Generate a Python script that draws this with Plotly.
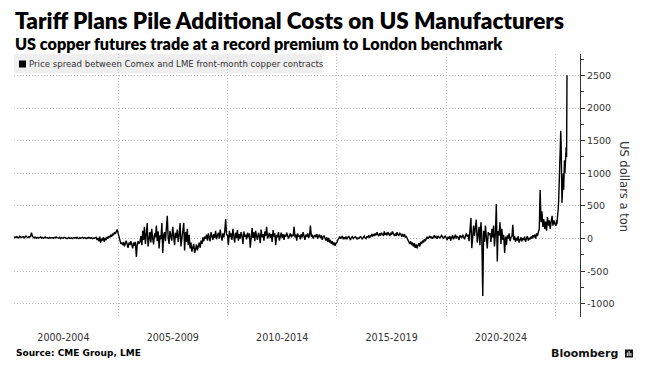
import pandas as pd
import plotly.graph_objects as go

# ---------------- data (US$ per tonne, Comex minus LME front-month) ----------------
# semi-monthly readings (1st & 15th), April 2000 - December 2024
spread_2000_2004 = [
    10, 25, 15, 30, 20, 10, 35, 20, 15, 25, 30, 10, 20, 40, 25, 15, 30, 20,
    40, 90, 30, 20, 10, 25, 15, 5, 20, 10, 15, 25, 10, 20, 5, 15, 25, 10, 20, 15, 5, 20, 10, 15,
    15, 5, 20, 10, 25, 15, 5, 10, 20, 0, 15, 10, 5, 20, 10, 15, 0, 10, 20, 5, 15, 10, 0, 15,
    10, 15, 5, 20, 10, 0, 15, 5, 10, 20, 5, 15, 10, 0, 15, 5, 20, 10, 5, 15, 0, 10, 5, 15,
    20, -20, 10, -40, 30, -60, 0, -30, 20, -50, 10, -20, 30, 0, 40, 20, 60, 30, 80, 50, 100, 70, 120, 140,
]
spread_2005_2009 = [
    80, 20, -40, -80, -60, -100, -50, -120, -70, -30, -90, -140, -60, -100, -40, -80, -150, -60, -110, -50, -280, -90, -40, -70,
    -50, 40, -100, 120, -20, 180, -80, 60, 240, -120, 30, 100, -60, 150, 0, -90, 80, 20, 200, -40, 110, -150, 50, -10,
    240, -220, 60, 100, -40, 150, 350, 20, -80, 120, 50, -30, 180, 70, -100, 90, 10, 140, -50, 60, 240, -120, 30, 80,
    240, -180, 100, -50, 150, -100, 60, -150, -60, -200, -120, -80, -220, -150, -90, -180, -110, -60, -140, -30, -80, 20, -40, 30,
    0, 60, -30, 80, 20, -40, 100, 30, -20, 70, 10, 120, -10, 50, 90, 0, 140, 40, -30, 80, 20, 110, 300, 60,
]
spread_2010_2014 = [
    50, -100, 120, 20, 80, -20, 150, 40, -60, 90, 10, 130, -30, 70, 0, 100, 40, -80, 110, 30, 60, -10, 90, 20,
    80, -140, 60, 160, 10, 100, -40, 120, 30, -20, 90, 50, -70, 140, 20, 70, -30, 110, 40, 180, 0, 60, 90, 10,
    70, -50, 130, 30, 80, -100, 60, 20, 100, -30, 50, 90, 10, 70, -20, 60, 30, 90, 40, 0, 50, 80, 20, 60,
    40, 180, 20, 60, -30, 80, 30, 50, -10, 70, 20, 100, 40, -20, 60, 30, 80, 10, 50, 200, 30, 60, 0, 40,
    50, 20, 70, 0, 40, 60, 10, 50, -20, 30, 40, 0, -30, 20, -50, 10, -60, -20, -80, -40, -100, -60, -110, -70,
]
spread_2015_2019 = [
    -60, -20, 10, 30, 0, 20, 40, -10, 20, 0, 30, -10, 20, 40, 10, -20, 20, 30, 0, 10, 30, 20, -10, 10,
    0, 20, 30, 10, -10, 20, 40, 10, 0, 30, 20, 50, 10, 40, 60, 30, 70, 40, 80, 50, 100, 60, 40, 80,
    50, 90, 70, 40, 110, 60, 80, 50, 100, 70, 40, 90, 60, 110, 80, 50, 70, 40, 100, 60, 50, 80, 70, 40,
    60, 30, 70, 20, 40, 0, -20, -50, -80, -40, -100, -60, -120, -70, -140, -90, -150, -100, -70, -120, -50, -80, -30, -60,
    -10, -40, 10, 30, 0, 20, 40, 10, 30, 0, 20, 50, 10, 30, 0, 40, 20, 10, 30, 50, 20, 0, 30, 40,
]
spread_2020_2024 = [
    10, -20, 30, 0, 40, -30, 20, 50, -10, 30, 60, 0, 40, 20, -20, 50, 30, 10, 60, 20, -10, 40, 80, 30,
    60, -40, 120, 315, -145, 80, 200, 40, 150, 290, -60, 100, 180, -100, 250, 50, -880, 120, -50, 200, 30, -150, 100, 60,
    80, -50, 150, 20, 200, -120, 100, 530, -350, 120, 50, 250, -80, 150, -20, 60, -220, 30, -100, 50, 0, 80, -40, 20,
    30, 210, -20, 40, -50, 10, -30, 40, -60, 0, 20, -40, 10, -20, 30, -50, 0, 40, -30, 10, -10, 30, 0, 50,
    20, 60, 0, 80, 40, 100, 150, 745, 250, 420, 180, 300, 150, 260, 120, 330, 200, 280, 150, 250, 350, 200, 280, 230,
]
# weekly readings (Tuesdays), January - July 2025
spread_2025 = [
    200, 280, 220, 300, 350, 450, 560, 700, 1100, 1200, 1400, 1650, 1450, 600,
    550, 700, 900, 1000, 750, 1100, 1200, 1000, 1300, 1150, 1400, 1250, 2500,
]

period_labels = ["2000-2004", "2005-2009", "2010-2014", "2015-2019", "2020-2024"]
period_mid = ["2002-07-02", "2007-07-02", "2012-07-02", "2017-07-02", "2022-07-02"]
period_breaks = ["2005-01-01", "2010-01-01", "2015-01-01", "2020-01-01", "2025-01-01"]
y_tick_vals = [-1000, -500, 0, 500, 1000, 1500, 2000, 2500]
y_tick_text = ["-1000", "-500", "0", "500", "1000", "1500", "2000", "2500"]

semi = spread_2000_2004 + spread_2005_2009 + spread_2010_2014 + spread_2015_2019 + spread_2020_2024
semi_dates = pd.date_range("2000-04-01", periods=len(semi), freq="SMS")
weekly_dates = pd.date_range("2025-01-07", periods=len(spread_2025), freq="W-TUE")
dates = list(semi_dates) + list(weekly_dates)
values = semi + spread_2025

# ---------------- layout geometry (pixels) ----------------
W, H = 645, 371
L, R, T, B = 14, 65, 54, 54
PW, PH = W - L - R, H - T - B


def xp(px):
    return (px - L) / PW


def yp(py):
    return 1 - (py - T) / PH


fig = go.Figure()
fig.add_trace(go.Scatter(
    x=dates, y=values, mode="lines",
    line=dict(color="#000000", width=1.4),
    showlegend=False, hoverinfo="x+y",
))

grid = "#bdbdbd"
gdash = "1px,2px"
fig.update_layout(
    width=W, height=H,
    margin=dict(l=L, r=R, t=T, b=B, pad=0),
    paper_bgcolor="white", plot_bgcolor="white",
    font=dict(family="DejaVu Sans", color="#333333"),
    xaxis=dict(
        type="date", automargin=False,
        range=["2000-03-29", "2026-02-10"],
        tickmode="array", tickvals=period_mid, ticktext=period_labels,
        ticks="", showgrid=False, zeroline=False, showline=False,
        tickfont=dict(family="DejaVu Sans", size=9.6, color="#333333"),
        ticklabelstandoff=13,
        minor=dict(tickmode="array", tickvals=period_breaks, showgrid=True,
                   gridcolor=grid, griddash=gdash, gridwidth=1, ticks=""),
    ),
    yaxis=dict(
        side="right", range=[-1200, 2827], automargin=False,
        tickmode="array", tickvals=y_tick_vals, ticktext=y_tick_text,
        showgrid=True, gridcolor=grid, griddash=gdash, gridwidth=1,
        zeroline=False, showline=True, linecolor="#333333", linewidth=1,
        ticks="outside", ticklen=4, tickcolor="#333333", tickwidth=1,
        tickfont=dict(family="DejaVu Sans", size=9.5, color="#333333"),
        minor=dict(dtick=250, tick0=0, ticks="outside", ticklen=3,
                   tickcolor="#333333", showgrid=False),
    ),
)

# legend strip background (below the grid) and its black square key
fig.add_shape(type="rect", xref="paper", yref="paper",
              x0=xp(14), x1=xp(322), y0=yp(73), y1=yp(54),
              fillcolor="#efefef", line=dict(width=0), layer="below")
fig.add_shape(type="rect", xref="paper", yref="paper",
              x0=xp(19), x1=xp(26), y0=yp(67.5), y1=yp(60.5),
              fillcolor="#000000", line=dict(width=0))

annotations = [
    dict(text="Tariff Plans Pile Additional Costs on US Manufacturers",
         x=xp(13), y=yp(21), font=dict(family="Lato", size=22.5, color="#000000", weight=800)),
    dict(text="US copper futures trade at a record premium to London benchmark",
         x=xp(13), y=yp(44), font=dict(family="Lato", size=16.2, color="#000000", weight=800)),
    dict(text="Price spread between Comex and LME front-month copper contracts",
         x=xp(27), y=yp(64), font=dict(family="DejaVu Sans", size=8.6, color="#333333")),
    dict(text="Source: CME Group, LME",
         x=xp(14), y=yp(353), font=dict(family="DejaVu Sans", size=9, color="#000000", weight=700)),
    dict(text="Bloomberg",
         x=xp(620), y=yp(353), xanchor="right",
         font=dict(family="DejaVu Sans", size=11, color="#111111", weight=700)),
    dict(text="US dollars a ton", textangle=90,
         x=xp(624), y=yp(186), xanchor="center",
         font=dict(family="DejaVu Sans", size=11.5, color="#333333")),
]
for a in annotations:
    a.setdefault("xanchor", "left")
    a.update(xref="paper", yref="paper", yanchor="middle", showarrow=False)
    fig.add_annotation(**a)

# Bloomberg mark: small dark rounded square with white bars
fig.add_shape(type="rect", xref="paper", yref="paper",
              x0=xp(625), x1=xp(633), y0=yp(357.5), y1=yp(349.5),
              fillcolor="#111111", line=dict(width=0))
for bx0, bx1, top in [(626.8, 627.8, 352.5), (628.6, 629.6, 351.0), (630.4, 631.4, 353.0)]:
    fig.add_shape(type="rect", xref="paper", yref="paper",
                  x0=xp(bx0), x1=xp(bx1), y0=yp(356), y1=yp(top),
                  fillcolor="white", line=dict(width=0))

fig.write_html("out.html", config={"displayModeBar": False},
               post_script="document.body.style.margin='0';document.body.style.padding='0';")
